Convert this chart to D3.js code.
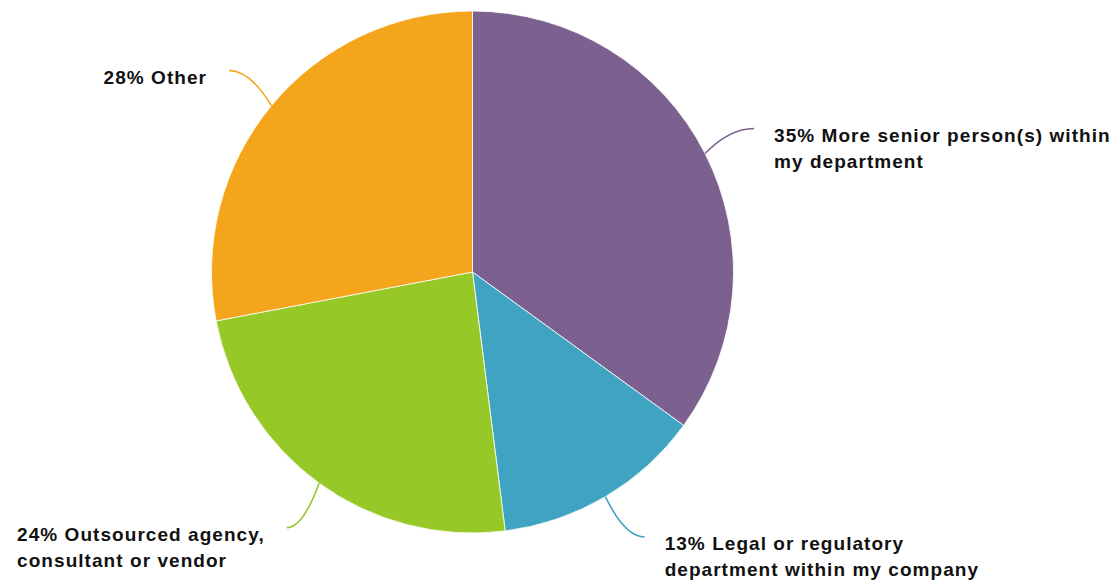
<!DOCTYPE html>
<html><head><meta charset="utf-8">
<script src="https://cdn.jsdelivr.net/npm/d3@7"></script>
<style>body{margin:0;background:#fff;} svg{display:block;}</style>
</head><body>
<svg id="chart" width="1117" height="585"></svg>
<script>
const categories = ["More senior person(s) within my department", "Legal or regulatory department within my company", "Outsourced agency, consultant or vendor", "Other"];
const values = [35, 13, 24, 28];
const labelLines = [
  ["35% More senior person(s) within", "my department"],
  ["13% Legal or regulatory", "department within my company"],
  ["24% Outsourced agency,", "consultant or vendor"],
  ["28% Other"]
];
const colors = ["#7c6190", "#40a3c2", "#96c828", "#f4a51b"];

const W = 1117, H = 585;
const cx = 472.5, cy = 272, R = 261, Rl = 316;
const svg = d3.select("#chart");
const g = svg.append("g").attr("transform", `translate(${cx},${cy})`);

const pie = d3.pie().sort(null).value(d => d)(values);
const arc = d3.arc().innerRadius(0).outerRadius(R);
const color = d3.scaleOrdinal().domain(d3.range(values.length)).range(colors);

g.selectAll("path.slice").data(pie).join("path")
  .attr("class", "slice")
  .attr("d", arc)
  .attr("fill", (d, i) => color(i))
  .attr("stroke", "#ffffff").attr("stroke-width", 0.8);

const pt = (a, r) => [r * Math.sin(a), -r * Math.cos(a)];

pie.forEach((d, i) => {
  const mid = (d.startAngle + d.endAngle) / 2;
  const right = Math.sin(mid) >= 0;
  const s = pt(mid, R);
  // label anchor: radial y, kept inside the canvas, x on the label circle
  let ey = pt(mid, Rl)[1];
  ey = Math.max(-cy + 40, Math.min(H - cy - 48, ey));
  const ex = (right ? 1 : -1) * Math.sqrt(Rl * Rl - ey * ey);
  const e = [ex, ey];
  const c = [s[0] + (e[0] - s[0]) * 0.5, e[1]];
  const p = d3.path();
  p.moveTo(s[0], s[1]);
  p.quadraticCurveTo(c[0], c[1], e[0], e[1]);
  g.append("path").attr("d", p.toString()).attr("fill", "none")
    .attr("stroke", color(i)).attr("stroke-width", 1.6);

  const t = g.append("text")
    .attr("font-family", "'Liberation Sans', Arial, Helvetica, sans-serif")
    .attr("font-weight", "bold").attr("font-size", 19)
    .attr("letter-spacing", 1.05).attr("fill", "#111");
  labelLines[i].forEach((ln, j) => {
    t.append("tspan").attr("dy", j === 0 ? 0 : 26).text(ln);
  });
  const spans = t.selectAll("tspan").nodes();
  const maxW = d3.max(spans, n => n.getComputedTextLength());
  const x0 = right ? e[0] + 20 : e[0] - 22 - maxW;
  t.attr("y", e[1] + 13);
  t.selectAll("tspan").attr("x", x0);
});
</script>
</body></html>
